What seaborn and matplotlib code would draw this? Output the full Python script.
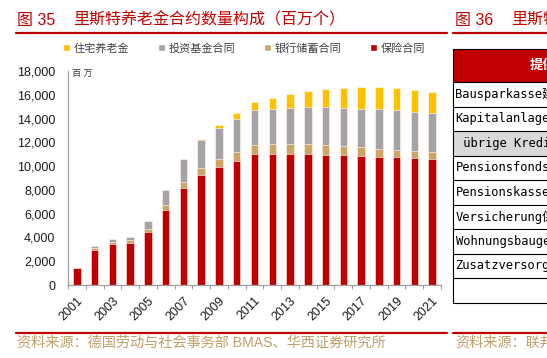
import matplotlib
matplotlib.use("Agg")
import matplotlib.pyplot as plt
from matplotlib.lines import Line2D
from matplotlib.patches import Patch, Rectangle
from matplotlib.ticker import StrMethodFormatter
import numpy as np
import pandas as pd
import seaborn as sns

# 数据（百万个）
years = ["2001", "2002", "2003", "2004", "2005", "2006", "2007", "2008", "2009", "2010", "2011",
         "2012", "2013", "2014", "2015", "2016", "2017", "2018", "2019", "2020", "2021"]
insurance = [1400, 2960, 3420, 3520, 4480, 6300, 8180, 9250, 9950, 10450, 10990,
             11020, 10990, 11040, 10960, 10910, 10880, 10790, 10740, 10655, 10620]
bank_savings = [0, 140, 220, 230, 250, 430, 460, 560, 670, 710, 780,
                810, 840, 820, 840, 780, 700, 675, 640, 615, 590]
fund = [40, 200, 230, 310, 630, 1230, 1930, 2390, 2610, 2830, 2950,
        2970, 3030, 3085, 3145, 3200, 3250, 3310, 3340, 3310, 3255]
housing = [0, 0, 0, 0, 0, 0, 0, 80, 230, 480, 700,
           950, 1180, 1375, 1565, 1705, 1790, 1845, 1820, 1790, 1740]

series_labels = ["住宅养老金", "投资基金合同", "银行储蓄合同", "保险合同"]
table_rows = ["Bausparkasse建房储蓄银行", "Kapitalanlagegesellschaft", " übrige Kreditinstitute",
              "Pensionsfonds养老基金", "Pensionskasse养老保险", "Versicherung保险公司",
              "Wohnungsbaugenossenschaft", "Zusatzversorgungskasse", ""]

RED = "#C00000"
TAN = "#CFA566"
GRAY = "#A7A2A6"
YELLOW = "#FFC000"
GOLD = "#BF9F6A"

df = pd.DataFrame({"year": years, "insurance": insurance, "bank": bank_savings,
                   "fund": fund, "housing": housing})
df["lvl_red"] = df["insurance"]
df["lvl_tan"] = df["lvl_red"] + df["bank"]
df["lvl_gray"] = df["lvl_tan"] + df["fund"]
df["lvl_yellow"] = df["lvl_gray"] + df["housing"]

sns.set_theme(style="white")
plt.rcParams["font.family"] = ["Liberation Sans", "Noto Sans CJK SC"]

W, H = 547, 358
fig = plt.figure(figsize=(W / 100, H / 100), dpi=100)
ax = fig.add_axes([68 / W, 1 - 285 / H, (441 - 68) / W, (285 - 71) / H])

for col, c in [("lvl_yellow", YELLOW), ("lvl_gray", GRAY), ("lvl_tan", TAN), ("lvl_red", RED)]:
    sns.barplot(data=df, x="year", y=col, color=c, saturation=1, width=0.42,
                edgecolor="white", linewidth=0.4, errorbar=None, ax=ax)

ax.set_xlim(-0.5, len(years) - 0.5)
ax.set_ylim(0, 18000)
ax.set_yticks(np.arange(0, 18001, 2000))
ax.yaxis.set_major_formatter(StrMethodFormatter("{x:,.0f}"))
ax.tick_params(axis="y", length=0, pad=9, labelsize=9, labelcolor="#1a1a1a")

ax.set_xticks(range(0, len(years), 2))
ax.set_xticklabels(years[::2], rotation=45, ha="right", rotation_mode="anchor")
ax.set_xticks(np.arange(-0.5, len(years), 1), minor=True)
ax.tick_params(axis="x", which="major", length=0, pad=7, labelsize=9, labelcolor="#1a1a1a")
ax.tick_params(axis="x", which="minor", length=3, width=0.8, color="#A0A0A0", direction="out", bottom=True)
ax.set_xlabel("")
ax.set_ylabel("")
for s in ["top", "right"]:
    ax.spines[s].set_visible(False)
for s in ["left", "bottom"]:
    ax.spines[s].set_color("#A0A0A0")
    ax.spines[s].set_linewidth(0.9)

fig.text(72 / W, 1 - 73 / H, "百 万", fontsize=6.5, color="#333333", va="center", ha="left")

# 图例
handles = [Patch(facecolor=c, label=l) for c, l in zip([YELLOW, GRAY, TAN, RED], series_labels)]
fig.legend(handles=handles, loc="center left", bbox_to_anchor=(63 / W, 1 - 48.5 / H), ncol=4,
           frameon=False, fontsize=8, handlelength=0.6, handleheight=0.6, handletextpad=0.35,
           columnspacing=2.6, borderpad=0, borderaxespad=0, labelcolor="#404040")

# 标题与来源
fig.text(17 / W, 1 - 20 / H, "图 35", fontsize=11.5, color=RED, va="center")
fig.text(73 / W, 1 - 20 / H, "里斯特养老金合约数量构成（百万个）", fontsize=11.5, color=RED, va="center")
fig.text(455 / W, 1 - 20 / H, "图 36", fontsize=11.5, color=RED, va="center")
fig.text(511 / W, 1 - 20 / H, "里斯特养老金提供者", fontsize=11.5, color=RED, va="center")
for y in [33, 332.5]:
    fig.add_artist(Line2D([16 / W, 447 / W], [1 - y / H] * 2, color=RED, lw=1.6))
    fig.add_artist(Line2D([453 / W, 1], [1 - y / H] * 2, color=RED, lw=1.6))
fig.text(17 / W, 1 - 343 / H, "资料来源：德国劳动与社会事务部 BMAS、华西证券研究所", fontsize=10.2, color=GOLD, va="center")
fig.text(455 / W, 1 - 343 / H, "资料来源：联邦劳动部", fontsize=10.2, color=GOLD, va="center")

# 右侧表格（被裁切）
x0 = 453
edges = [49.3, 82, 106.5, 131, 155.5, 180, 204.5, 229, 253.5, 278, 302.5]
fig.add_artist(Rectangle((x0 / W, 1 - edges[1] / H), (W - x0) / W, (edges[1] - edges[0]) / H,
                         transform=fig.transFigure, facecolor=RED, edgecolor="none"))
fig.text(530 / W, 1 - 65.5 / H, "提供机构", fontsize=9.5, color="white", va="center", fontweight="bold")
for i, label in enumerate(table_rows):
    top, bot = edges[i + 1], edges[i + 2]
    if i == 2:
        fig.add_artist(Rectangle((x0 / W, 1 - bot / H), (W - x0) / W, (bot - top) / H,
                                 transform=fig.transFigure, facecolor="#D9D9D9", edgecolor="none"))
    fig.text(455.5 / W, 1 - (top + bot) / 2 / H, label, fontsize=8.7, color="black", va="center",
             family=["DejaVu Sans Mono", "Noto Sans CJK SC"])
for y in edges:
    fig.add_artist(Line2D([x0 / W, 1], [1 - y / H] * 2, color="black", lw=0.8))
fig.add_artist(Line2D([x0 / W, x0 / W], [1 - edges[0] / H, 1 - edges[-1] / H], color="black", lw=0.8))

fig.savefig("out.png", dpi=100)
